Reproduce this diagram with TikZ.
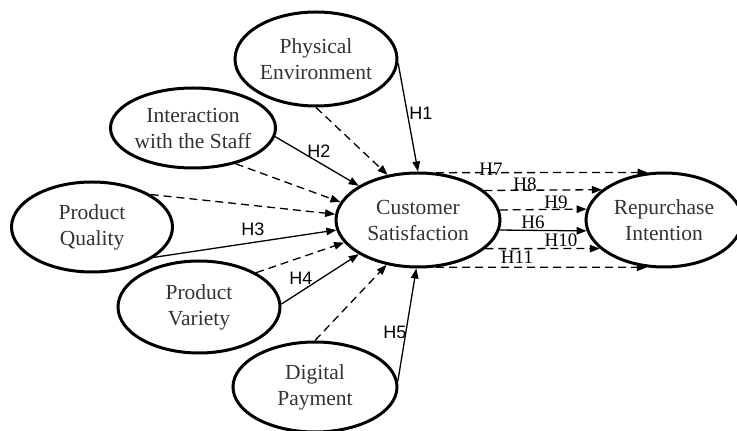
\documentclass[tikz,border=0pt]{standalone}
\usepackage{fontspec}
\setmainfont{Liberation Serif}
\newfontfamily\hsans{Liberation Sans}
\usetikzlibrary{shapes.geometric,arrows.meta}

\tikzset{
  construct/.style={ellipse, draw, line width=3pt, inner sep=0pt, align=center,
    text=black!80, font=\fontsize{21.5}{26}\selectfont},
  hyp/.style={line width=1.3pt, -{Triangle[length=10pt,width=7.5pt]}},
  alt/.style={hyp, dash pattern=on 8pt off 5pt},
  hlab/.style={font=\hsans\fontsize{18}{18}\selectfont, inner sep=0pt},
  hlabs/.style={font=\fontsize{19}{19}\selectfont, inner sep=0pt}
}

\begin{document}
\begin{tikzpicture}[x=1pt, y=1pt]
	\useasboundingbox (0,0) rectangle (737,431);

	% constructs
	\node[construct, minimum width=162, minimum height=94] (pe) at (316,372) {Physical\\Environment};
	\node[construct, minimum width=163, minimum height=80] (is) at (193,303) {Interaction\\with the Staff};
	\node[construct, minimum width=161, minimum height=90] (pq) at (92,204) {Product\\Quality};
	\node[construct, minimum width=162, minimum height=92] (pv) at (199,124) {Product\\Variety};
	\node[construct, minimum width=164, minimum height=90] (dp) at (315,44) {Digital\\Payment};
	\node[construct, minimum width=164, minimum height=94] (cs) at (418,211) {Customer\\Satisfaction};
	\node[construct, minimum width=156, minimum height=94] (ri) at (664,211) {Repurchase\\Intention};

	% direct paths
	\draw[hyp] (pe.-3) -- (cs.90);
	\draw[hyp] (is.-6) -- (cs.150);
	\draw[hyp] (pq.-26) -- (cs.187);
	\draw[hyp] (pv.2) -- (cs.210);
	\draw[hyp] (dp.4) -- (cs.268);
	\draw[hyp] (cs.-7.9) -- (ri.188.3);

	% mediated paths
	\draw[alt] (pe.270) -- (cs.124.5);
	\draw[alt] (is.-40) -- (cs.167);
	\draw[alt] (pq.29) -- (cs.176.5);
	\draw[alt] (pv.31) -- (cs.197);
	\draw[alt] (dp.90) -- (cs.235.5);
	\draw[alt] (cs.69.9) -- (ri.109.2);
	\draw[alt] (cs.24.2) -- (ri.154.7);
	\draw[alt] (cs.7.1) -- (ri.172.5);
	\draw[alt] (cs.-23) -- (ri.204.1);
	\draw[alt] (cs.-69.9) -- (ri.250.8);

	% labels
	\node[hlab] (h1) at (421,318) {H1};
	\node[hlab] (h2) at (319,280) {H2};
	\node[hlab] (h3) at (253,202) {H3};
	\node[hlab] (h4) at (301,153) {H4};
	\node[hlab] (h5) at (395,99) {H5};
	\node[hlabs] (h6) at (533,209) {H6};
	\node[hlabs] (h7) at (491,262) {H7};
	\node[hlabs] (h8) at (525,247) {H8};
	\node[hlabs] (h9) at (556,229) {H9};
	\node[hlabs] (h10) at (561,191) {H10};
	\node[hlabs] (h11) at (517,174) {H11};
\end{tikzpicture}
\end{document}
